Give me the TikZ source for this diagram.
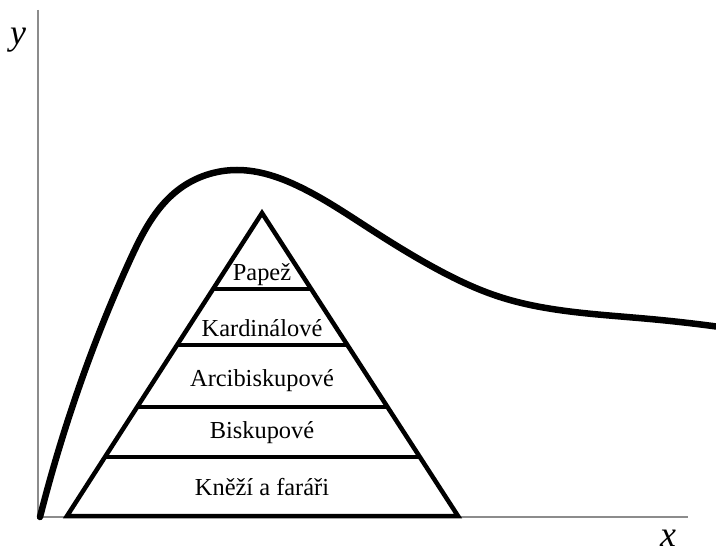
\documentclass[tikz,border=0pt]{standalone}
\usepackage{fontspec}
\setmainfont{Liberation Serif}
\usetikzlibrary{calc,hobby}
\begin{document}
\begin{tikzpicture}[x=1bp,y=-1bp,
  axisline/.style={draw=black!45,line width=1.6bp},
  curveline/.style={line width=6.5bp,line cap=round,line join=round},
  pyr/.style={line width=4.5bp,line join=miter},
  tier/.style={anchor=base,font=\fontsize{24.5}{26}\selectfont,inner sep=0pt},
  axlabel/.style={anchor=base,font=\fontsize{36}{38}\selectfont\itshape,inner sep=0pt}]
\useasboundingbox (0,0) rectangle (716,554);
% axes
\coordinate (O) at (38,517);
\coordinate (Ytop) at (38,10);
\coordinate (Xend) at (688,517);
\draw[axisline] (Ytop) -- (O) -- (Xend);
\node[axlabel] (ylab) at (18,45) {y};
\node[axlabel] (xlab) at (668,546) {x};
% curve
\draw[curveline,use Hobby shortcut] (40,517) .. (77,393) .. (130,260) .. (178,190)
 .. (237,170) .. (300,187) .. (367,227) .. (433,267) .. (500,297)
 .. (583,313) .. (650,319) .. (720,327);
% pyramid
\coordinate (A) at (262,213);
\coordinate (L) at (67,516);
\coordinate (R) at (458,516);
\fill[white] (A) -- (L) -- (R) -- cycle;
\draw[pyr] (A) -- (L) -- (R) -- cycle;
\foreach \t in {0.2508,0.4356,0.6403,0.8053}{
  \draw[pyr] ($(A)!\t!(L)$) -- ($(A)!\t!(R)$);
}
\node[tier] (t1) at (262,281) {Papež};
\node[tier] (t2) at (262,336) {Kardinálové};
\node[tier] (t3) at (262,386) {Arcibiskupové};
\node[tier] (t4) at (262,438) {Biskupové};
\node[tier] (t5) at (262,495) {Kněží a faráři};
\end{tikzpicture}
\end{document}
